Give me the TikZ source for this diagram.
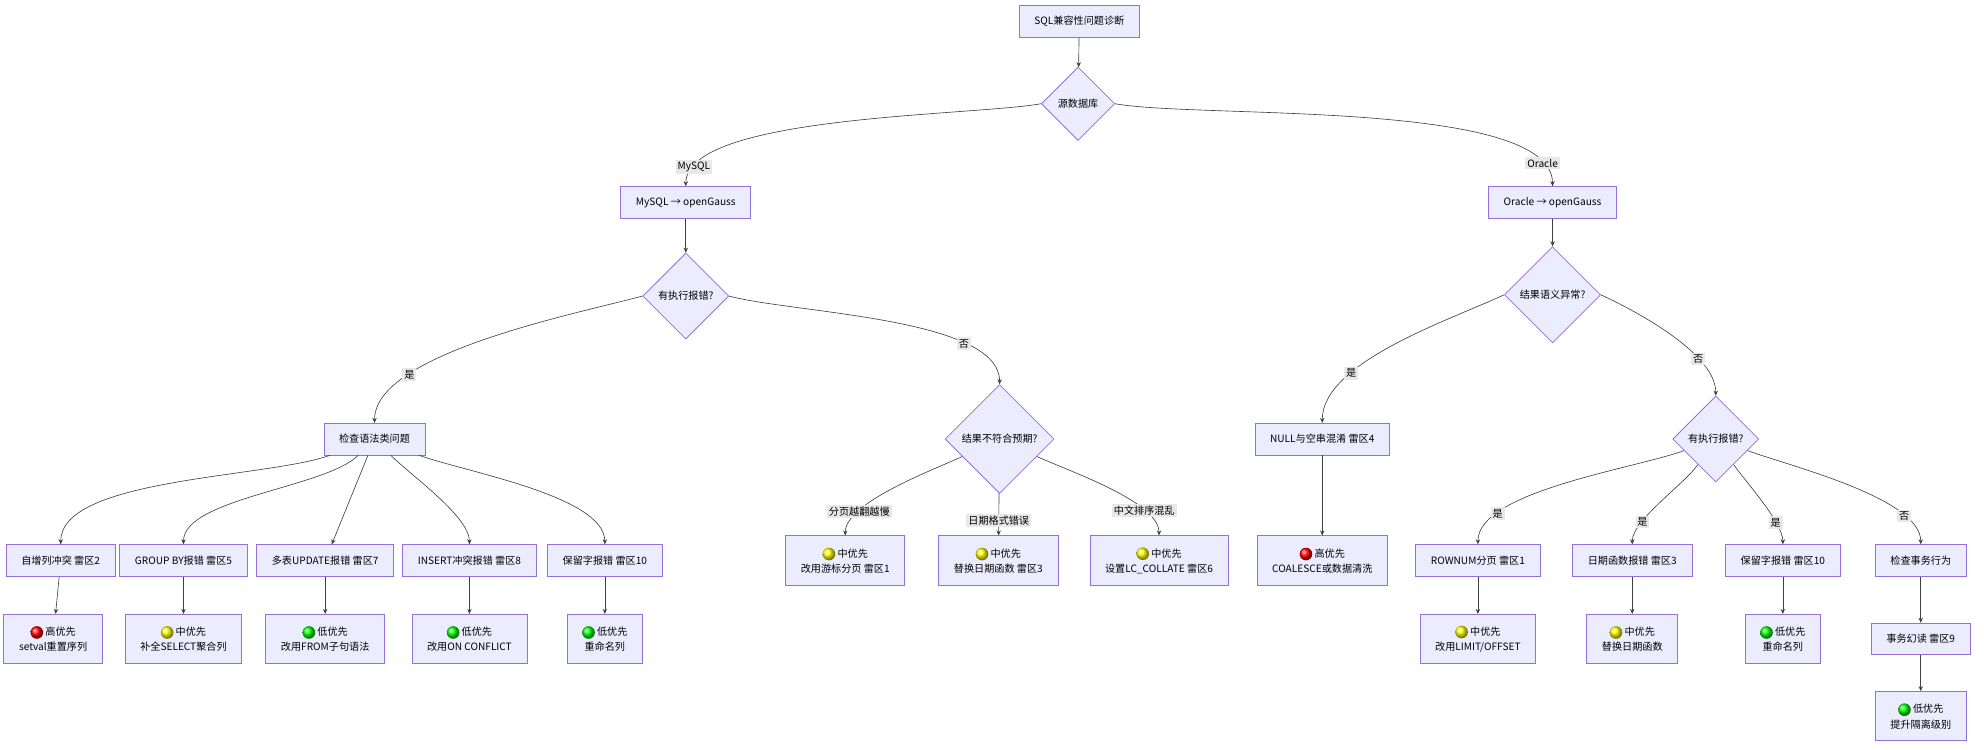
\documentclass[tikz,border=0pt]{standalone}
\usepackage{fontspec}
\setmainfont{Noto Sans CJK SC}
\usetikzlibrary{shapes.geometric,arrows.meta}
\definecolor{boxfill}{HTML}{ECECFF}
\definecolor{boxline}{HTML}{9370DB}
\definecolor{lblfill}{HTML}{E8E8E8}
\newcommand{\prio}[1]{\tikz[baseline=-0.6ex]\shade[ball color=#1] (0,0) circle (5pt);}
\tikzset{
  box/.style={draw=boxline,fill=boxfill,line width=0.6pt,minimum height=25pt,inner xsep=12pt,align=center,font=\fontsize{8}{12}\selectfont},
  tall/.style={box,minimum height=39pt},
  dia/.style={diamond,draw=boxline,fill=boxfill,line width=0.6pt,inner sep=0pt,aspect=1,font=\fontsize{8}{10}\selectfont},
  lbl/.style={fill=lblfill,inner sep=1.5pt,font=\fontsize{8}{9}\selectfont},
  link/.style={draw=black!75,line width=0.5pt,-{Stealth[length=4pt,width=3.5pt]}}
}
\begin{document}
\begin{tikzpicture}[x=1pt,y=-1pt]
  \useasboundingbox (0,0) rectangle (1568,592);
  % top
  \node[box] (root) at (853,17) {SQL兼容性问题诊断};
  \node[dia,minimum size=58pt] (src) at (852,82) {源数据库};
  \node[box] (my) at (542,160) {MySQL → openGauss};
  \node[box] (ora) at (1227,160) {Oracle → openGauss};
  % mysql side
  \node[dia,minimum size=68pt] (myerr) at (542,234) {有执行报错?};
  \node[box] (syn) at (296,347) {检查语法类问题};
  \node[dia,minimum size=86pt] (myres) at (790,347) {结果不符合预期?};
  \node[box] (s1) at (48,443) {自增列冲突 雷区2};
  \node[box] (s2) at (145,443) {GROUP BY报错 雷区5};
  \node[box] (s3) at (257,443) {多表UPDATE报错 雷区7};
  \node[box] (s4) at (371,443) {INSERT冲突报错 雷区8};
  \node[box] (s5) at (478,443) {保留字报错 雷区10};
  \node[tall] (f1) at (42,505) {\prio{red} 高优先\\setval重置序列};
  \node[tall] (f2) at (145,505) {\prio{yellow} 中优先\\补全SELECT聚合列};
  \node[tall] (f3) at (257,505) {\prio{green} 低优先\\改用FROM子句语法};
  \node[tall] (f4) at (371,505) {\prio{green} 低优先\\改用ON CONFLICT};
  \node[tall] (f5) at (478,505) {\prio{green} 低优先\\重命名列};
  \node[tall] (r1) at (668,443) {\prio{yellow} 中优先\\改用游标分页 雷区1};
  \node[tall] (r2) at (789,443) {\prio{yellow} 中优先\\替换日期函数 雷区3};
  \node[tall] (r3) at (916,443) {\prio{yellow} 中优先\\设置LC\_COLLATE 雷区6};
  % oracle side
  \node[dia,minimum size=76pt] (orares) at (1227,233) {结果语义异常?};
  \node[box] (null) at (1045,347) {NULL与空串混淆 雷区4};
  \node[tall] (nullfix) at (1045,443) {\prio{red} 高优先\\COALESCE或数据清洗};
  \node[dia,minimum size=68pt] (oraerr) at (1356,347) {有执行报错?};
  \node[box] (o1) at (1168,443) {ROWNUM分页 雷区1};
  \node[box] (o2) at (1290,443) {日期函数报错 雷区3};
  \node[box] (o3) at (1409,443) {保留字报错 雷区10};
  \node[box] (o4) at (1518,443) {检查事务行为};
  \node[tall] (g1) at (1168,505) {\prio{yellow} 中优先\\改用LIMIT/OFFSET};
  \node[tall] (g2) at (1290,505) {\prio{yellow} 中优先\\替换日期函数};
  \node[tall] (g3) at (1409,505) {\prio{green} 低优先\\重命名列};
  \node[box] (tx) at (1518,505) {事务幻读 雷区9};
  \node[tall] (g4) at (1518,566) {\prio{green} 低优先\\提升隔离级别};
  % connectors
  \draw[link] (root) -- (src);
  \draw[link] (src.west) to[out=190,in=90,looseness=0.5] node[lbl,pos=0.9] {MySQL} (my.north);
  \draw[link] (src.east) to[out=-10,in=90,looseness=0.5] node[lbl,pos=0.9] {Oracle} (ora.north);
  \draw[link] (my) -- (myerr);
  \draw[link] (ora) -- (orares);
  \draw[link] (myerr.west) to[out=195,in=90,looseness=0.6] node[lbl,pos=0.74] {是} (syn.north);
  \draw[link] (myerr.east) to[out=-15,in=90,looseness=0.6] node[lbl,pos=0.74] {否} (myres.north);
  \draw[link] (orares.west) to[out=205,in=90,looseness=0.7] node[lbl,pos=0.7] {是} (null.north);
  \draw[link] (orares.east) to[out=-25,in=90,looseness=0.7] node[lbl,pos=0.7] {否} (oraerr.north);
  \foreach \c/\o in {s1/200,s2/225,s4/-45,s5/-20}
    \draw[link] (syn) to[out=\o,in=90,looseness=0.6] (\c.north);
  \draw[link] (syn) -- (s3);
  \foreach \a/\b in {s1/f1,s2/f2,s3/f3,s4/f4,s5/f5,null/nullfix,o1/g1,o2/g2,o3/g3,o4/tx,tx/g4}
    \draw[link] (\a) -- (\b);
  \draw[link] (myres) to[out=205,in=90,looseness=0.6] node[lbl,pos=0.75] {分页越翻越慢} (r1.north);
  \draw[link] (myres) -- node[lbl,pos=0.65] {日期格式错误} (r2);
  \draw[link] (myres) to[out=-25,in=90,looseness=0.6] node[lbl,pos=0.75] {中文排序混乱} (r3.north);
  \draw[link] (oraerr) to[out=200,in=90,looseness=0.6] node[lbl,pos=0.78] {是} (o1.north);
  \draw[link] (oraerr) to[out=235,in=90,looseness=0.6] node[lbl,pos=0.72] {是} (o2.north);
  \draw[link] (oraerr) to[out=-55,in=90,looseness=0.6] node[lbl,pos=0.72] {是} (o3.north);
  \draw[link] (oraerr) to[out=-20,in=90,looseness=0.6] node[lbl,pos=0.78] {否} (o4.north);
\end{tikzpicture}
\end{document}
